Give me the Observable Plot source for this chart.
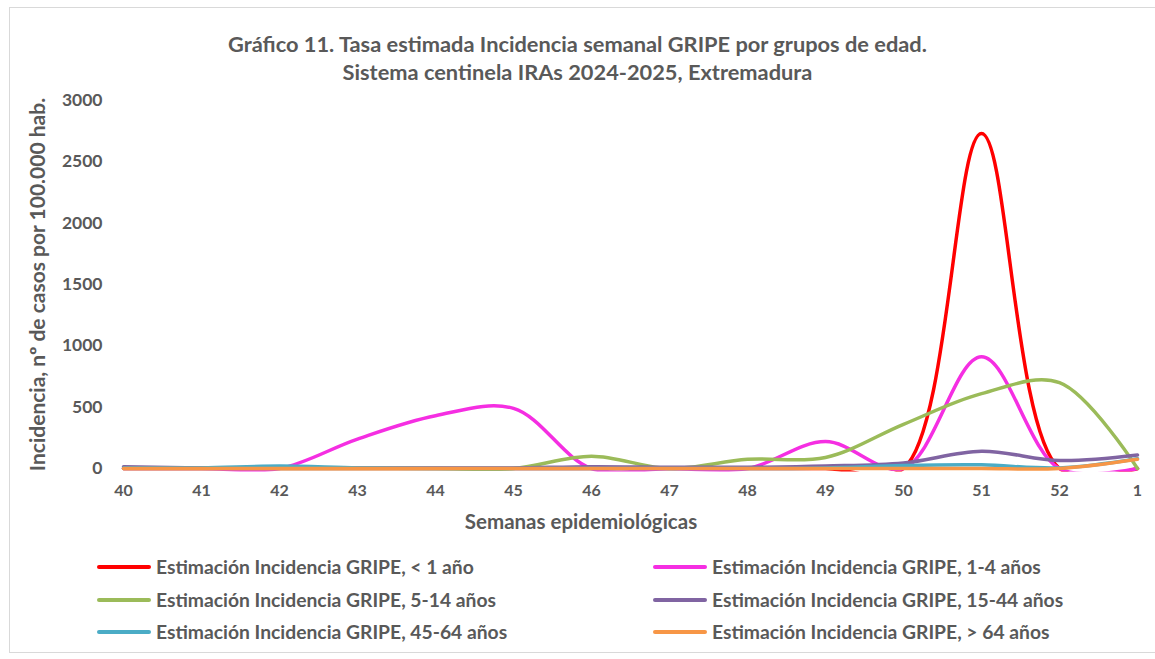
<!DOCTYPE html>
<html>
<head>
<meta charset="utf-8">
<script src="https://cdn.jsdelivr.net/npm/d3@7"></script>
<script src="https://cdn.jsdelivr.net/npm/@observablehq/plot@0.6"></script>
<style>
  body { margin: 0; background: #fff; font-family: Lato, "Open Sans", sans-serif; color: #595959; }
  #frame { position: absolute; left: 9px; top: 7px; width: 1150px; height: 646px; border: 1px solid #d9d9d9; box-sizing: border-box; }
  .title { position: absolute; left: 0; width: 1155px; text-align: center; font-weight: bold; font-size: 21.8px; color: #595959; }
  #chart { position: absolute; left: 0; top: 85px; }
  .leg { position: absolute; display: flex; align-items: center; font-weight: bold; font-size: 19.3px; color: #595959; }
  .sw { width: 54px; height: 4px; margin-right: 5px; border-radius: 2px; }
</style>
</head>
<body>
<div id="frame"></div>
<div class="title" style="top:30px">Gráfico 11. Tasa estimada Incidencia semanal GRIPE por grupos de edad.</div>
<div class="title" style="top:58px">Sistema centinela IRAs 2024-2025, Extremadura</div>
<div id="chart"></div>
<div id="legend"></div>
<script>
const weeks = ["40","41","42","43","44","45","46","47","48","49","50","51","52","1"];
const seriesNames = [
  "Estimación Incidencia GRIPE, < 1 año",
  "Estimación Incidencia GRIPE, 1-4 años",
  "Estimación Incidencia GRIPE, 5-14 años",
  "Estimación Incidencia GRIPE, 15-44 años",
  "Estimación Incidencia GRIPE, 45-64 años",
  "Estimación Incidencia GRIPE, > 64 años"
];
const colors = ["#ff0000", "#f52ee2", "#9bbb59", "#8064a2", "#4bacc6", "#f79646"];
const lt1   = [0, 0, 0, 0, 0, 0, 0, 0, 0, 0, 0, 2730, 0, 0];
const a1_4  = [0, 0, 0, 240, 430, 490, 0, 0, 0, 220, 0, 910, 0, 0];
const a5_14 = [0, 0, 0, 0, 0, 0, 100, 0, 75, 90, 360, 610, 700, 0];
const a15_44 = [15, 5, 5, 5, 5, 5, 15, 10, 10, 20, 45, 140, 65, 110];
const a45_64 = [5, 5, 20, 5, 0, 0, 0, 0, 0, 5, 25, 30, 5, 80];
const gt64  = [0, 0, 0, 0, 0, 0, 0, 0, 0, 0, 0, 0, 0, 75];
const yTicks = [0, 500, 1000, 1500, 2000, 2500, 3000];
const allSeries = [lt1, a1_4, a5_14, a15_44, a45_64, gt64];

const data = [];
allSeries.forEach((vals, s) => vals.forEach((v, i) => data.push({week: weeks[i], value: v, series: seriesNames[s]})));

const W = 1155, H = 448, ML = 121, MR = 17, MT = 15, MB = 65;
const chart = Plot.plot({
  width: W,
  height: H,
  marginLeft: ML,
  marginRight: MR,
  marginTop: MT,
  marginBottom: MB,
  style: {fontFamily: "Lato, 'Open Sans', sans-serif", color: "#595959", background: "transparent"},
  x: {type: "point", domain: weeks, padding: 0},
  y: {domain: [0, 3000], ticks: yTicks},
  color: {domain: seriesNames, range: colors},
  marks: [
    Plot.gridY(yTicks, {stroke: "#d9d9d9", strokeOpacity: 1, strokeWidth: 1, x1: 121, x2: 1140}),
    Plot.axisY({ticks: yTicks, tickFormat: d => String(d), tickSize: 0, tickPadding: 19, fontSize: 17.5, fontWeight: "bold", fill: "#595959",
      label: "Incidencia, nº de casos por 100.000 hab.", labelAnchor: "center", labelArrow: "none", labelOffset: 91}),
    Plot.axisX({tickSize: 0, tickPadding: 16, fontSize: 16, fontWeight: "bold", fill: "#595959",
      label: "Semanas epidemiológicas", labelAnchor: "center", labelArrow: "none", labelOffset: 60}),
    Plot.line(data, {x: "week", y: "value", z: "series", stroke: "series", strokeWidth: 3.5, curve: "catmull-rom"})
  ]
});
chart.querySelectorAll("g[aria-label='y-axis label'] text").forEach(t => {
  t.setAttribute("font-size", "21"); t.setAttribute("font-weight", "bold"); t.setAttribute("fill", "#595959");
});
chart.querySelectorAll("g[aria-label='x-axis label']").forEach(g => {
  g.setAttribute("transform", "translate(-49,0) " + (g.getAttribute("transform") || ""));
  g.querySelectorAll("text").forEach(t => {
    t.setAttribute("font-size", "20.5"); t.setAttribute("font-weight", "bold"); t.setAttribute("fill", "#595959");
  });
});
// clip lines just below the zero baseline, as the original does
const ns = "http://www.w3.org/2000/svg";
const defs = document.createElementNS(ns, "defs");
const cp = document.createElementNS(ns, "clipPath");
cp.setAttribute("id", "plotclip");
const r = document.createElementNS(ns, "rect");
r.setAttribute("x", 0); r.setAttribute("y", 0);
r.setAttribute("width", W); r.setAttribute("height", H - MB + 3);
cp.appendChild(r); defs.appendChild(cp); chart.insertBefore(defs, chart.firstChild);
chart.querySelectorAll("g[aria-label='line']").forEach(g => g.setAttribute("clip-path", "url(#plotclip)"));
document.getElementById("chart").appendChild(chart);

const legend = document.getElementById("legend");
const pos = [[97, 567], [653, 567], [97, 600], [653, 600], [97, 632], [653, 632]];
seriesNames.forEach((n, i) => {
  const d = document.createElement("div");
  d.className = "leg";
  d.style.left = pos[i][0] + "px";
  d.style.top = (pos[i][1] - 12) + "px";
  d.innerHTML = `<div class="sw" style="background:${colors[i]}"></div><span>${n}</span>`;
  legend.appendChild(d);
});
</script>
</body>
</html>
